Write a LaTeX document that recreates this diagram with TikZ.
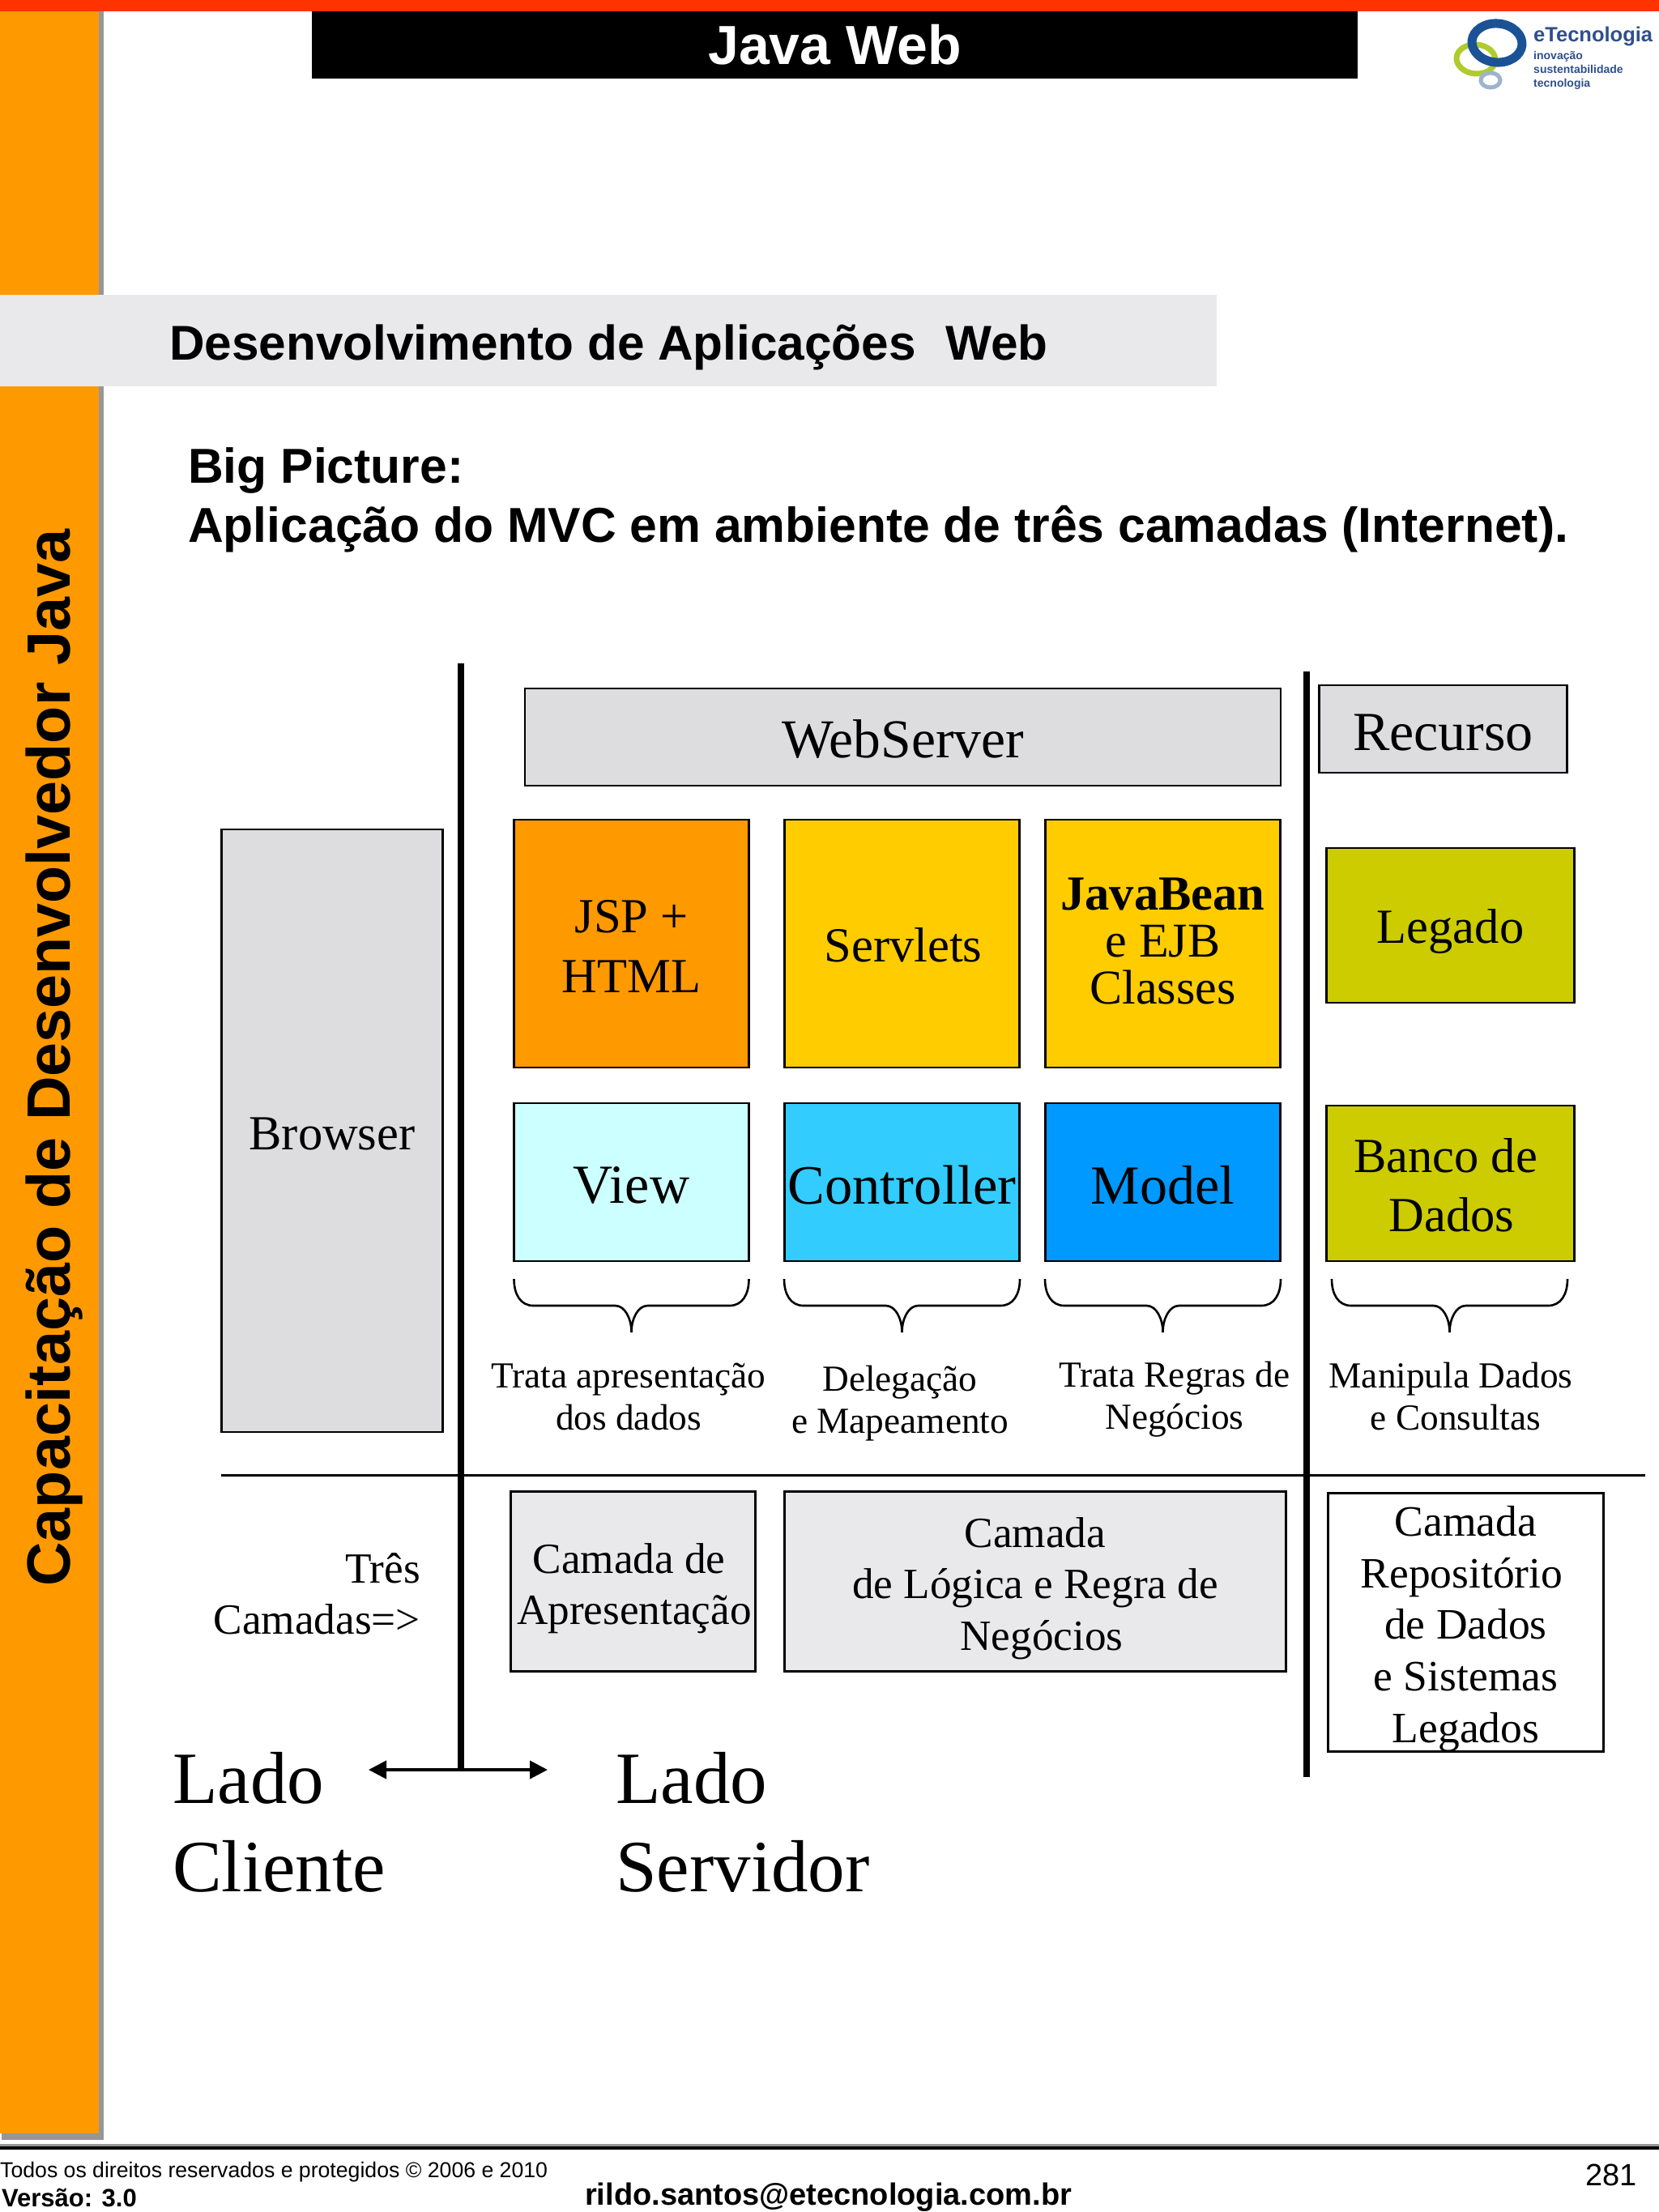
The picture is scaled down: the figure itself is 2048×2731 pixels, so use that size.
\documentclass[tikz,border=0pt]{standalone}
\usepackage{fontspec}
\setmainfont{Liberation Serif}
\newfontfamily\arial{Liberation Sans}
\usetikzlibrary{arrows.meta}
\definecolor{barred}{HTML}{FF3300}
\definecolor{orangeside}{HTML}{FF9900}
\definecolor{sideshadow}{HTML}{969696}
\definecolor{band}{HTML}{E9E9EB}
\definecolor{boxgrey}{HTML}{DDDDE0}
\definecolor{yel}{HTML}{FFCC00}
\definecolor{cyanlight}{HTML}{CCFFFF}
\definecolor{cyanmid}{HTML}{33CCFF}
\definecolor{bluemid}{HTML}{0099FF}
\definecolor{olive}{HTML}{CCCC00}
\definecolor{logoblue}{HTML}{1B5296}
\definecolor{logogreen}{HTML}{AFCB2E}
\definecolor{logopale}{HTML}{9DB3D0}
\definecolor{logotext}{HTML}{2F4F8C}
\newcommand{\fs}[2]{\fontsize{#1}{#2}\selectfont}
\newcommand{\gap}[1]{\rule{#1pt}{0pt}}
\newcommand{\cbrace}[2]{%
  \draw[bracestroke] (#1,1579) .. controls (#1,1598) and ({#1+8},1612) .. ({#1+24},1612)
    -- ({(#1+#2)/2-20},1612) .. controls ({(#1+#2)/2-8},1612) and ({(#1+#2)/2},1628) .. ({(#1+#2)/2},1645)
    .. controls ({(#1+#2)/2},1628) and ({(#1+#2)/2+8},1612) .. ({(#1+#2)/2+20},1612)
    -- ({#2-24},1612) .. controls ({#2-8},1612) and (#2,1598) .. (#2,1579);}
\tikzset{
  x=1pt,y=-1pt,
  box/.style={draw=black,line width=2.6pt,inner sep=0pt},
  caption/.style={inner sep=0pt,align=center},
  bracestroke/.style={draw=black,line width=2.6pt},
  heavy/.style={draw=black,line width=8pt},
  small/.style={caption,font=\fs{45.3}{52}},
  big/.style={inner sep=0pt,anchor=base west,font=\fs{91}{91}},
  sans/.style={inner sep=0pt,anchor=base west},
}
\begin{document}
\begin{tikzpicture}
\useasboundingbox (0,0) rectangle (2048,2731);
\fill[white] (0,0) rectangle (2048,2731);
% frame
\fill[sideshadow] (2,8) rectangle (128,2642);
\fill[orangeside] (0,0) rectangle (122,2634);
\fill[barred] (0,0) rectangle (2048,14);
\fill[band] (0,364) rectangle (1502,477);
\node[fill=black,text=white,minimum width=1291pt,minimum height=83pt,inner sep=0pt,font=\arial\bfseries\fs{68}{68}] (title) at (1030.5,55.5) {\raisebox{-3pt}{Java Web}};
% logo
\draw[logogreen,line width=7pt,rotate around={-5:(1822,73)}] (1822,73) ellipse [x radius=24,y radius=18];
\draw[logoblue,line width=11pt,rotate around={-5:(1848,53)}] (1848,53) ellipse [x radius=31,y radius=24];
\draw[logopale,line width=5pt] (1840,99) ellipse [x radius=12,y radius=9];
\node[sans,text=logotext,font=\arial\bfseries\fs{25.5}{28}] (logoa) at (1893,51) {eTecnologia};
\node[sans,text=logotext,font=\arial\bfseries\fs{14}{16}] (logob) at (1893,73) {inovação};
\node[sans,text=logotext,font=\arial\bfseries\fs{14}{16}] (logoc) at (1893,90) {sustentabilidade};
\node[sans,text=logotext,font=\arial\bfseries\fs{14}{16}] (logod) at (1893,107) {tecnologia};
% headings
\node[sans,font=\arial\bfseries\fs{60.3}{60}] (sect) at (209,444) {Desenvolvimento de Aplicações\ \ \hspace{3pt}Web};
\node[sans,font=\arial\bfseries\fs{60.6}{60}] (bp) at (232,596) {Big Picture:};
\node[sans,font=\arial\bfseries\fs{60.6}{60}] (app) at (232,669) {Aplicação do MVC em ambiente de três camadas (Internet).};
\node[rotate=90,inner sep=0pt,font=\arial\bfseries\fs{75.5}{75}] (side) at (67,1306) {Capacitação de Desenvolvedor Java};
% top boxes
\node[box,fill=boxgrey,minimum width=933pt,minimum height=120pt] (web) at (1114.5,910) {};
\node[caption,font=\fs{67.6}{67}] (webt) at ([yshift=-3pt]web.center) {WebServer};
\node[box,fill=boxgrey,minimum width=306pt,minimum height=108pt] (rec) at (1781.5,900) {};
\node[caption,font=\fs{68}{68}] (rect) at ([yshift=-5pt]rec.center) {Recurso};
\node[box,fill=boxgrey,minimum width=273pt,minimum height=744pt] (brow) at (410,1396) {};
\node[caption,font=\fs{60.5}{60}] (browt) at (410,1400) {Browser};
\node[box,fill=orangeside,minimum width=290pt,minimum height=306pt] (jsp) at (779.5,1165) {};
\node[caption,font=\fs{60.5}{74}] (jspt) at ([yshift=-3.5pt]jsp.center) {JSP +\\HTML};
\node[box,fill=yel,minimum width=290pt,minimum height=306pt] (serv) at (1113.5,1165) {};
\node[caption,font=\fs{60.5}{60}] (servt) at ([xshift=1.5pt,yshift=-1.5pt]serv.center) {Servlets};
\node[box,fill=yel,minimum width=290pt,minimum height=306pt] (bean) at (1435.5,1165) {};
\node[caption,font=\fs{60}{58}] (beant) at ([yshift=3.5pt]bean.center) {\textbf{\fontsize{60.5}{58}\selectfont JavaBean}\\e EJB\\Classes};
\node[box,fill=cyanlight,minimum width=290pt,minimum height=195pt] (view) at (779.5,1459.5) {};
\node[caption,font=\fs{68}{67}] (viewt) at ([yshift=-3.5pt]view.center) {View};
\node[box,fill=cyanmid,minimum width=290pt,minimum height=195pt] (ctrl) at (1113.5,1459.5) {};
\node[caption,font=\fs{68.5}{67}] (ctrlt) at ([yshift=-3.5pt]ctrl.center) {Controller};
\node[box,fill=bluemid,minimum width=290pt,minimum height=195pt] (model) at (1435.5,1459.5) {};
\node[caption,font=\fs{68}{67}] (modelt) at ([yshift=-3.5pt]model.center) {Model};
\node[box,fill=olive,minimum width=306pt,minimum height=191pt] (leg) at (1790.5,1142.5) {};
\node[caption,font=\fs{60.5}{60}] (legt) at ([yshift=-8pt]leg.center) {Legado};
\node[box,fill=olive,minimum width=306pt,minimum height=192pt] (banco) at (1790.5,1461) {};
\node[caption,font=\fs{60.5}{73}] (bancot) at ([yshift=-2pt]banco.center) {Banco de\gap{12}\\\gap{3}Dados};
% braces
\cbrace{634.5}{924.5}
\cbrace{968}{1259}
\cbrace{1290}{1581}
\cbrace{1644}{1935}
% brace labels
\node[small] (t1) at (776,1724.5) {Trata apresentação\\dos dados};
\node[small] (t2) at (1111,1733) {Delegação\\e Mapeamento};
\node[small] (t3) at (1450,1728) {Trata Regras de\\Negócios};
\node[small] (t4) at (1791,1724) {Manipula Dados\\\gap{12}e Consultas};
% rule lines
\coordinate (hl) at (273,1821);
\coordinate (hr) at (2031,1821);
\draw[draw=black,line width=3pt] (hl) -- (hr);
\coordinate (va) at (569,819);
\coordinate (vb) at (569,2185);
\draw[heavy] (va) -- (vb);
\coordinate (wa) at (1613,829);
\coordinate (wb) at (1613,2194);
\draw[heavy] (wa) -- (wb);
\coordinate (al) at (455,2185);
\coordinate (ar) at (676,2185);
\draw[draw=black,line width=4pt,{Triangle[length=22pt,width=22pt]}-{Triangle[length=22pt,width=22pt]}] (al) -- (ar);
% lower boxes
\node[box,fill=band,minimum width=302pt,minimum height=222pt] (capa) at (781.5,1952.5) {};
\node[caption,font=\fs{53.2}{63}] (capat) at ([yshift=-8.5pt]capa.center) {Camada de\gap{10}\\\gap{3}Apresentação};
\node[box,fill=band,minimum width=619pt,minimum height=222pt] (clog) at (1278,1952.5) {};
\node[caption,font=\fs{53.2}{63.5}] (clogt) at ([yshift=-8.5pt]clog.center) {Camada\\de Lógica e Regra de\\\gap{16}Negócios};
\node[box,fill=white,minimum width=340pt,minimum height=319pt] (crep) at (1809.5,2003) {};
\node[caption,font=\fs{53.5}{63.7}] (crept) at ([yshift=-8pt]crep.center) {Camada\\Repositório\gap{10}\\de Dados\\e Sistemas\\Legados};
\node[caption,font=\fs{53.2}{63},align=right,anchor=east] (tres) at (519,1968) {Três\\Camadas=>};
% sides
\node[big] (lc1) at (213,2226) {Lado};
\node[big] (lc2) at (213,2335) {Cliente};
\node[big] (ls1) at (760,2226) {Lado};
\node[big] (ls2) at (760,2335) {Servidor};
% footer
\fill[sideshadow] (0,2647) rectangle (2048,2650);
\fill[black] (0,2650) rectangle (2048,2654);
\node[sans,font=\arial\fs{26.65}{27}] (f1) at (0,2688) {Todos os direitos reservados e protegidos © 2006 e 2010};
\node[sans,font=\arial\bfseries\fs{31}{31}] (f2) at (2,2724) {Versão: 3.0};
\node[sans,font=\arial\bfseries\fs{38}{38}] (f3) at (722,2722) {rildo.santos@etecnologia.com.br};
\node[sans,font=\arial\fs{38}{38}] (f4) at (1957,2698) {281};
\end{tikzpicture}
\end{document}
